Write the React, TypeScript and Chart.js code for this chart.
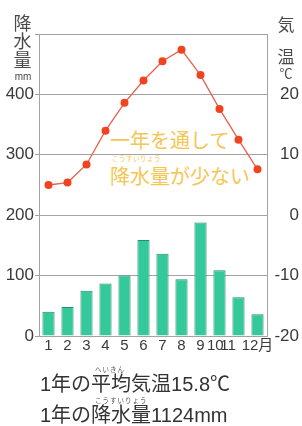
import React, { useEffect, useRef } from 'react';
import { Chart, registerables } from 'chart.js';

Chart.register(...registerables);

// ---- data ----
const months = ['1', '2', '3', '4', '5', '6', '7', '8', '9', '10  ', '11     ', '12月'];
const precipitation = [40, 48, 75, 87, 100, 159, 136, 94, 188, 109, 64, 36];
const temperature = [5.0, 5.4, 8.4, 14.0, 18.6, 22.3, 25.5, 27.4, 23.2, 17.6, 12.5, 7.6];
const precipRange = [0, 500];
const tempRange = [-20, 30];
const precipHiddenTick = 500;
const tempHiddenTick = 30;

const NUM_FONT = '"Liberation Sans", "Noto Sans CJK JP", sans-serif';
const JP_FONT = '"Noto Sans CJK JP", "Liberation Sans", sans-serif';

const W = 302;
const H = 426;

function Txt(props: { x: number; y: number; size: number; color: string; children: React.ReactNode; font?: string; ls?: number; center?: boolean }) {
  const { x, y, size, color, children, font, ls, center } = props;
  return (
    <div
      style={{
        position: 'absolute',
        left: x,
        top: y,
        transform: center ? 'translate(-50%, -50%)' : 'translateY(-50%)',
        fontSize: size,
        lineHeight: 1,
        color,
        fontFamily: font || JP_FONT,
        whiteSpace: 'pre',
        letterSpacing: ls ? ls + 'px' : undefined,
      }}
    >
      {children}
    </div>
  );
}

export default function App() {
  const ref = useRef<HTMLCanvasElement | null>(null);

  useEffect(() => {
    if (!ref.current) return;
    const chart = new Chart(ref.current, {
      type: 'bar',
      data: {
        labels: months,
        datasets: [
          {
            type: 'line',
            data: temperature,
            yAxisID: 'yT',
            borderColor: '#e8614c',
            borderWidth: 1.3,
            pointRadius: 4,
            pointBackgroundColor: '#f0431f',
            pointBorderWidth: 0,
            tension: 0,
            order: 0,
          } as any,
          {
            type: 'bar',
            data: precipitation,
            yAxisID: 'yP',
            backgroundColor: '#34c99a',
            borderColor: '#23906c',
            borderWidth: 1,
            barPercentage: 0.64,
            categoryPercentage: 1,
            order: 1,
          } as any,
        ],
      },
      options: {
        responsive: false,
        animation: false,
        layout: { padding: { top: 34, right: 3, left: 0, bottom: 0 } },
        plugins: { legend: { display: false }, tooltip: { enabled: false } },
        scales: {
          x: {
            grid: { display: false, drawTicks: false },
            border: { display: false },
            ticks: {
              autoSkip: false,
              maxRotation: 0,
              minRotation: 0,
              padding: 1,
              color: '#3a3a3a',
              font: { family: NUM_FONT, size: 15 },
            },
            afterFit: (s: any) => {
              s.height = 90;
            },
          },
          yP: {
            position: 'left',
            min: precipRange[0],
            max: precipRange[1],
            ticks: {
              stepSize: 100,
              padding: 1,
              color: '#3a3a3a',
              font: { family: NUM_FONT, size: 17 },
              callback: (v: any) => (v === precipHiddenTick ? '' : String(v)),
            },
            grid: { color: '#a3a3a3', lineWidth: 1, tickLength: 4, drawTicks: true },
            border: { display: true, color: '#a3a3a3' },
            afterFit: (s: any) => {
              s.width = 39;
            },
          },
          yT: {
            position: 'right',
            min: tempRange[0],
            max: tempRange[1],
            ticks: {
              stepSize: 10,
              padding: 0,
              crossAlign: 'far',
              color: '#3a3a3a',
              font: { family: NUM_FONT, size: 17 },
              callback: (v: any) => (v === tempHiddenTick ? '' : String(v)),
            },
            grid: { drawOnChartArea: false, drawTicks: false },
            border: { display: true, color: '#a3a3a3' },
            afterFit: (s: any) => {
              s.width = 32;
            },
          },
        },
      } as any,
    });
    return () => chart.destroy();
  }, []);

  return (
    <div style={{ position: 'absolute', left: 0, top: 0, width: W, height: H, background: '#fff', overflow: 'hidden' }}>
      {/* annotation inside chart */}
      <Txt x={110} y={140} size={20} color="#f5c653">一年を通して</Txt>
      <Txt x={112} y={158} size={6.5} color="#f5c653" ls={0.5}>こうすいりょう</Txt>
      <Txt x={110} y={176} size={20} color="#f5c653">降水量が少ない</Txt>

      <canvas ref={ref} width={W} height={H} style={{ position: 'absolute', left: 0, top: 0, width: W, height: H }} />

      {/* left axis title */}
      <Txt x={22.5} y={21.5} size={18} color="#4a4a4a" center>降</Txt>
      <Txt x={22.5} y={40} size={18} color="#4a4a4a" center>水</Txt>
      <Txt x={22.5} y={58.5} size={18} color="#4a4a4a" center>量</Txt>
      <Txt x={23} y={77} size={10} color="#4a4a4a" font={NUM_FONT} center>mm</Txt>

      {/* right axis title */}
      <Txt x={286} y={23} size={17} color="#4a4a4a" center>気</Txt>
      <Txt x={286} y={55} size={17} color="#4a4a4a" center>温</Txt>
      <Txt x={286} y={73} size={13} color="#4a4a4a" font={NUM_FONT} center>℃</Txt>

      {/* bottom summary */}
      <Txt x={95} y={369} size={6.5} color="#555" ls={1}>へいきん</Txt>
      <Txt x={40} y={384} size={20} color="#333" font={NUM_FONT}>1年の平均気温15.8℃</Txt>
      <Txt x={95} y={400} size={6.5} color="#555" ls={1}>こうすいりょう</Txt>
      <Txt x={40} y={415} size={20} color="#333" font={NUM_FONT}>1年の降水量1124mm</Txt>
    </div>
  );
}
